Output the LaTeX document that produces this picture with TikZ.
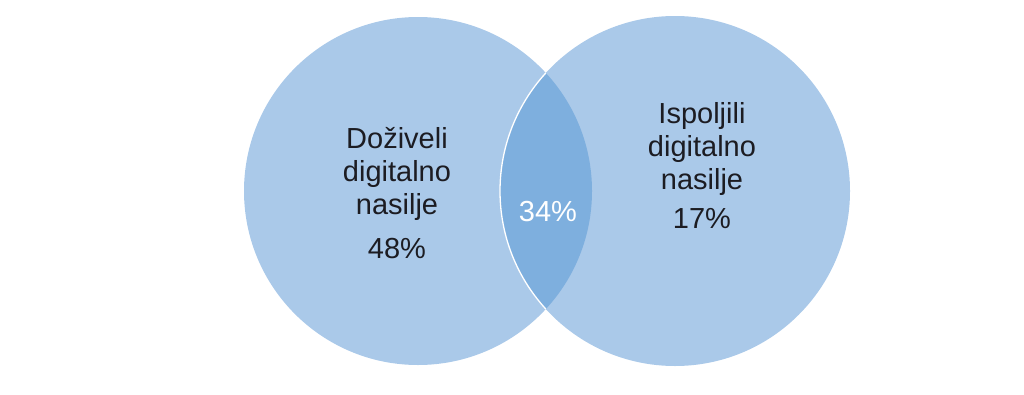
\documentclass[tikz,border=0pt]{standalone}
\usepackage{fontspec}
\setmainfont{Liberation Sans}
\definecolor{vennfill}{RGB}{170,201,233}
\definecolor{venncore}{RGB}{126,175,222}
\definecolor{venntext}{RGB}{28,28,34}
\tikzset{
    vennset/.style={circle, fill=vennfill, minimum size=#1, inner sep=0pt},
    venntxt/.style={align=center, text=venntext, inner sep=0pt,
        font=\fontsize{29}{33}\selectfont}
}

\begin{document}
\begin{tikzpicture}[x=1pt,y=-1pt]
    \useasboundingbox (0,0) rectangle (1024,394);

    \node[vennset=348pt] (left) at (418,191) {};
    \node[vennset=350pt] (right) at (675,191) {};

    \begin{scope}
    \clip (left.center) circle (174);
    \fill[venncore] (right.center) circle (175);
    \draw[white, line width=1.3pt] (right.center) circle (175);
    \end{scope}

    \node[venntxt] (lefttext) at (397,193) {Doživeli\\digitalno\\nasilje\\[11pt]48\%};
    \node[venntxt] (righttext) at (702,166) {Ispoljili\\digitalno\\nasilje\\[6pt]17\%};
    \node[venntxt, text=white] (midtext) at (548,212) {34\%};

  \end{tikzpicture}
\end{document}
